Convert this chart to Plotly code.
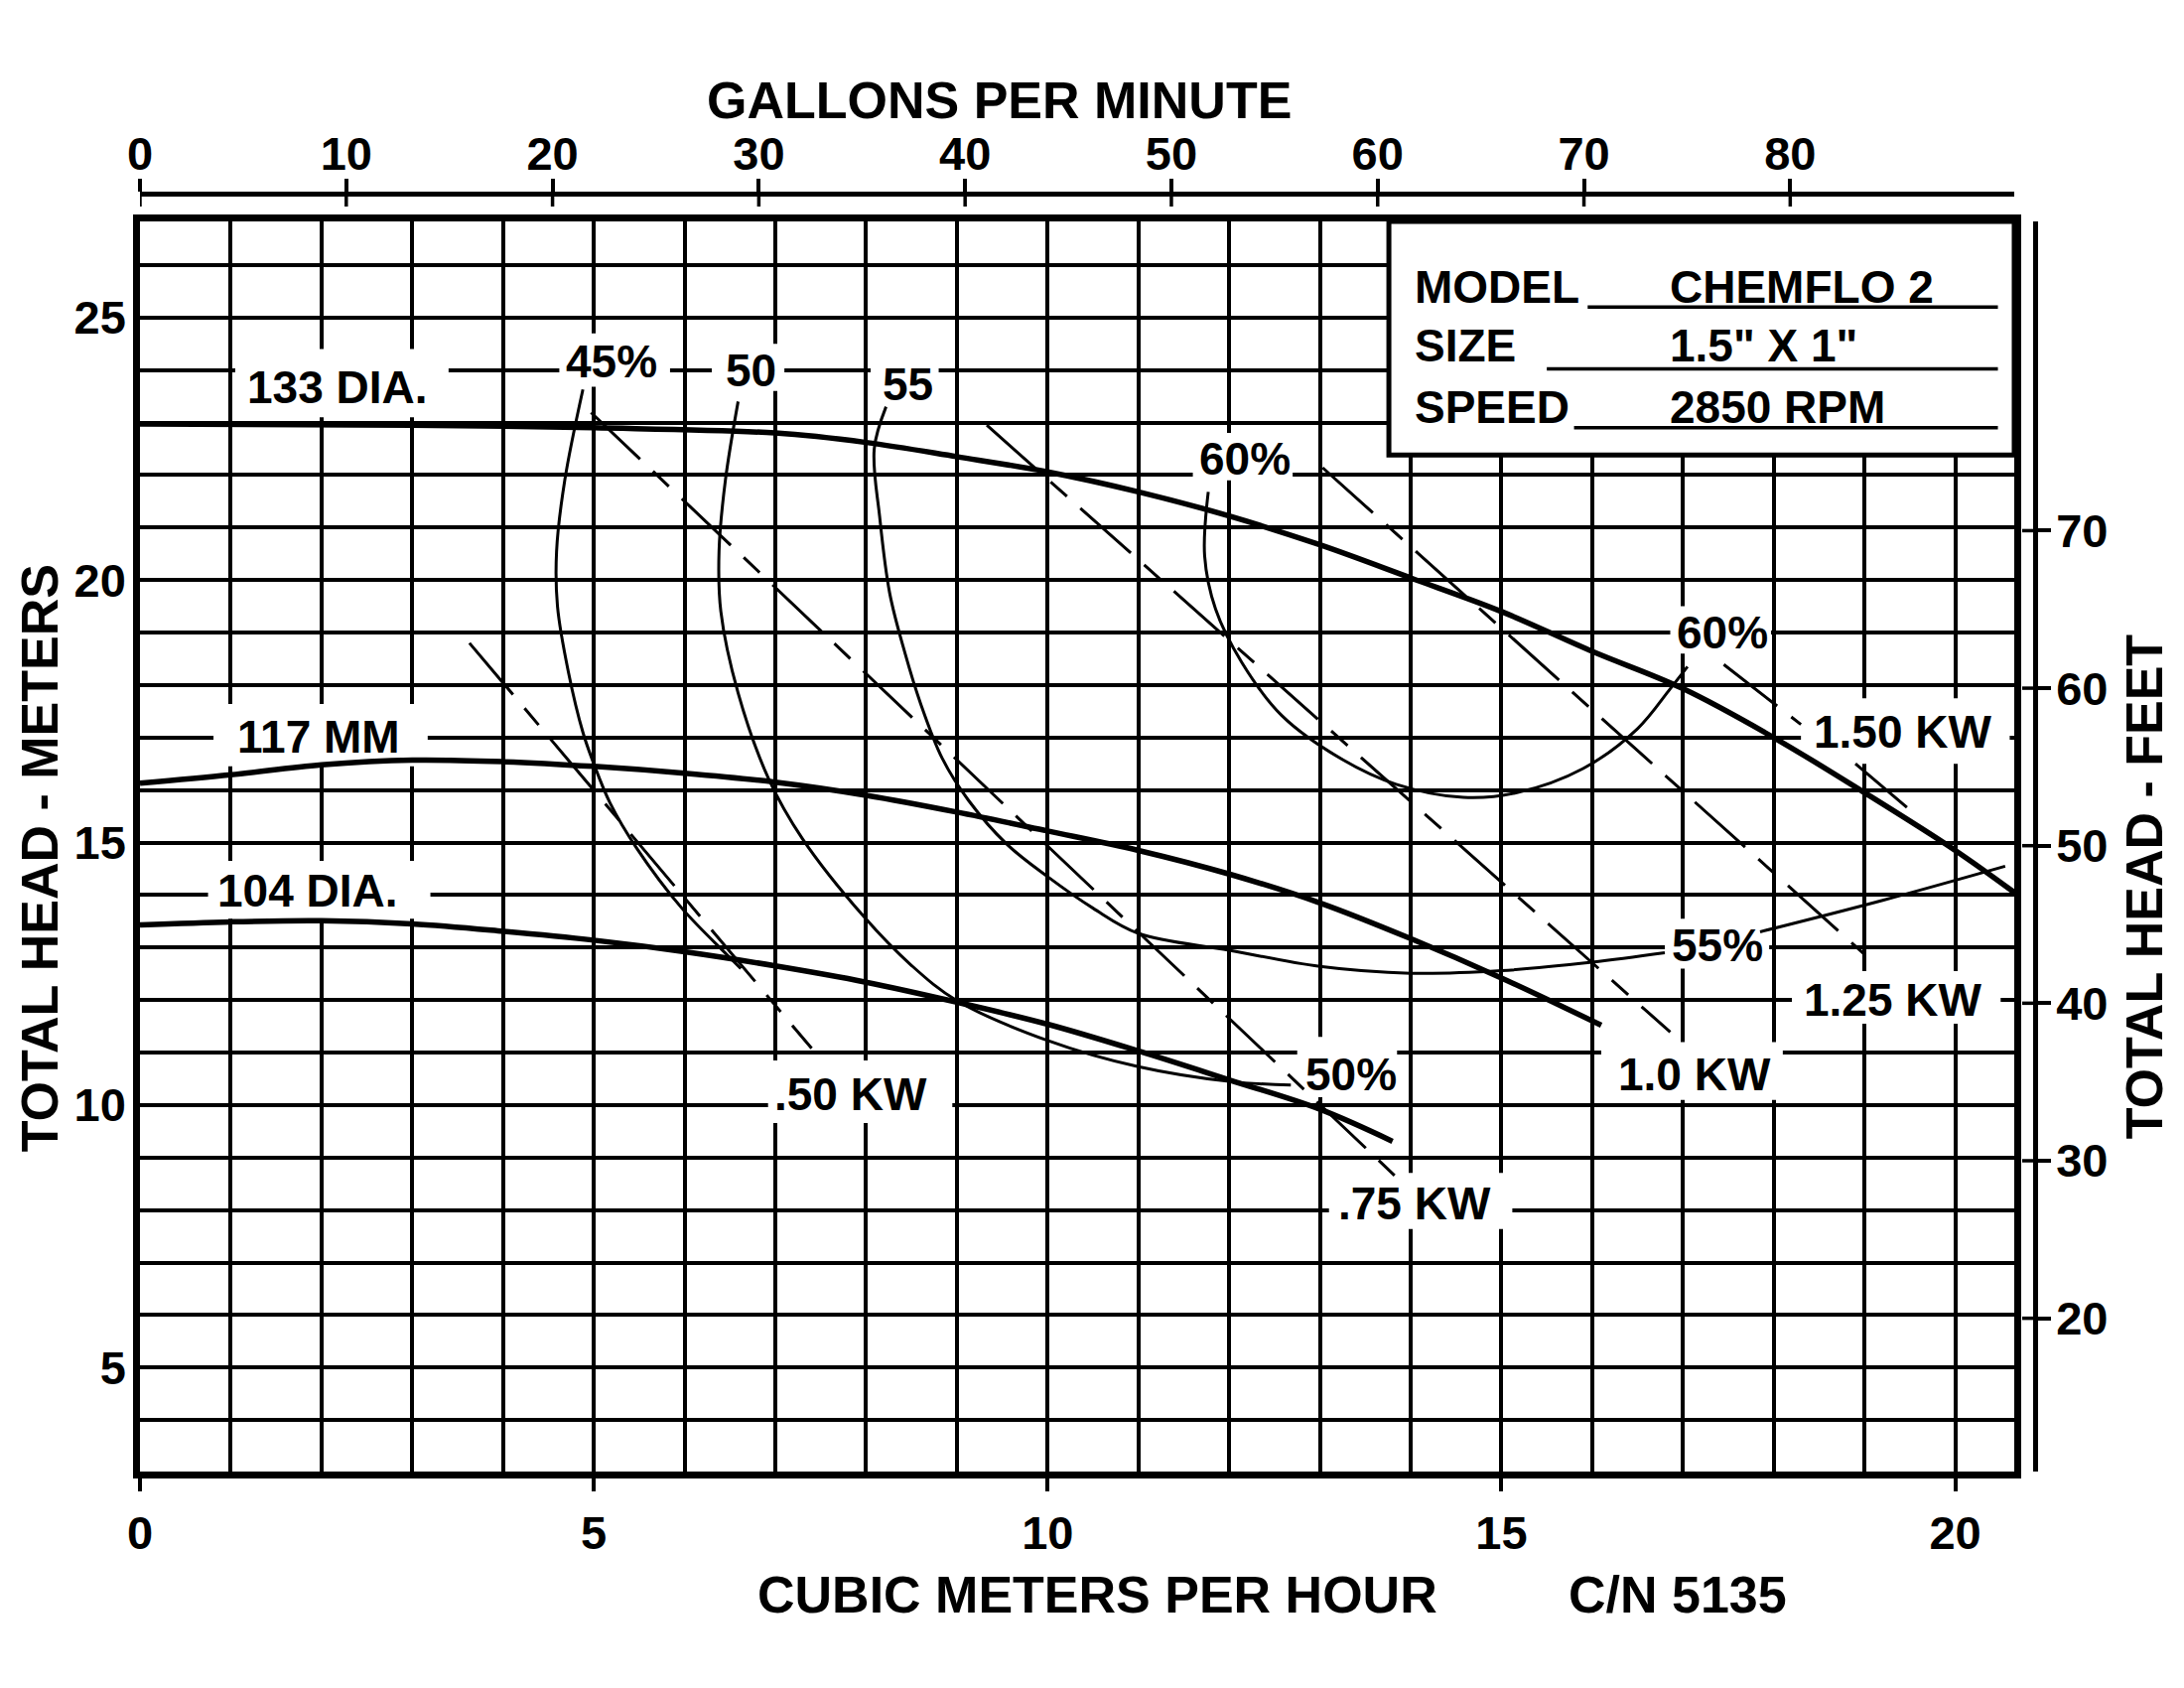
import plotly.graph_objects as go

# ---- values: flow in m3/h, head in m ----
# impeller head curves
q_133 = [0, 3, 5, 7, 8, 9, 10, 11, 12, 13, 14, 15, 16, 17, 18, 19, 20, 20.65]
h_133 = [22.97, 22.95, 22.9, 22.8, 22.62, 22.35, 22.06, 21.68, 21.22, 20.67, 20.04, 19.4, 18.64, 17.93, 17.0, 15.95, 14.85, 14.05]

q_117 = [0, 1, 2, 3, 4, 5, 6, 7, 8, 9, 10, 11, 12, 13, 14, 15, 16.1]
h_117 = [16.13, 16.29, 16.48, 16.57, 16.54, 16.45, 16.32, 16.15, 15.9, 15.58, 15.22, 14.85, 14.4, 13.85, 13.17, 12.42, 11.52]

q_104 = [0, 1, 2, 3, 4, 5, 6, 7, 8, 9, 10, 11, 12, 13, 13.8]
h_104 = [13.43, 13.49, 13.51, 13.45, 13.31, 13.14, 12.92, 12.65, 12.34, 11.96, 11.54, 11.03, 10.48, 9.92, 9.31]

# efficiency contours
q_e45 = [4.88, 4.68, 4.59, 4.6, 4.72, 4.88, 5.0, 5.18, 5.47, 5.97, 6.47, 6.62]
h_e45 = [23.63, 21.9, 20.55, 19.5, 18.25, 17.1, 16.5, 15.75, 14.9, 13.75, 12.86, 12.6]

q_e50 = [6.59, 6.45, 6.38, 6.4, 6.59, 6.93, 7.3, 7.97, 8.5, 9.0, 10.0, 11.0, 12.0, 12.68]
h_e50 = [23.4, 21.9, 20.55, 19.4, 17.85, 16.2, 15.07, 13.6, 12.66, 11.99, 11.23, 10.73, 10.45, 10.38]

q_e55 = [8.22, 8.09, 8.15, 8.26, 8.43, 8.6, 8.84, 9.13, 9.55, 10.0, 10.5, 11.0, 12.0, 13.0, 14.0, 15.0, 16.0, 16.8, None, 17.85, 19.2, 20.55]
h_e55 = [23.3, 22.5, 21.2, 19.75, 18.6, 17.65, 16.6, 15.8, 14.97, 14.35, 13.75, 13.27, 12.95, 12.64, 12.51, 12.56, 12.72, 12.9, None, 13.3, 13.9, 14.55]

q_e60 = [11.77, 11.73, 11.85, 12.14, 12.58, 13.25, 13.84, 14.58, 15.17, 15.9, 16.5, 16.86, 17.05]
h_e60 = [21.68, 20.46, 19.45, 18.43, 17.42, 16.58, 16.11, 15.86, 15.95, 16.41, 17.17, 17.93, 18.35]

# power lines
q_kw050 = [3.63, 7.4]
h_kw050 = [18.8, 11.08]
q_kw075 = [4.97, 13.95]
h_kw075 = [23.19, 8.45]
q_kw100 = [9.33, 16.86]
h_kw100 = [22.95, 11.39]
q_kw125 = [13.03, 19.0]
h_kw125 = [22.14, 12.87]
q_kw150 = [17.45, 18.3, None, 18.9, 19.48]
h_kw150 = [18.39, 17.25, None, 16.5, 15.65]

# curve labels
label_text = ["133 DIA.", "117 MM", "104 DIA.", "45%", "50", "55", "60%", "60%",
              "55%", "50%", ".50 KW", ".75 KW", "1.0 KW", "1.25 KW", "1.50 KW"]

# axis ticks
q_ticks = [0, 5, 10, 15, 20]
h_ticks = [5, 10, 15, 20, 25]
gpm_ticks = [0, 10, 20, 30, 40, 50, 60, 70, 80]
ft_ticks = [20, 30, 40, 50, 60, 70]

# nameplate
plate_keys = ["MODEL", "SIZE", "SPEED"]
plate_vals = ["CHEMFLO 2", '1.5" X 1"', "2850 RPM"]

# ---- layout constants ----
FONT = "Liberation Sans, Arial, sans-serif"
Q_RANGE = [0, 20.65]
H_RANGE = [3.02, 26.83]
GPM_PER_M3H = 4.40           # scale of the printed gallon axis
FT_RANGE = [10.27, 89.63]    # printed feet axis (as drawn on the sheet)

# label centres and white knock-out boxes (x0, x1, y0, y1) in data units
label_pos = [(2.18, 23.71), (1.97, 17.05), (1.85, 14.12), (5.19, 24.2), (6.73, 24.03),
             (8.46, 23.77), (12.17, 22.35), (17.43, 19.03), (17.38, 13.08), (13.34, 10.62),
             (7.83, 10.25), (14.04, 8.16), (17.13, 10.62), (19.32, 12.05), (19.43, 17.15)]
label_box = [(1.05, 3.4, 23.1, 24.4), (0.81, 3.17, 16.45, 17.64), (0.75, 3.2, 13.55, 14.65),
             (4.62, 5.84, 23.68, 24.7), (6.3, 7.1, 23.6, 24.5), (8.05, 8.8, 23.35, 24.4),
             (11.6, 12.7, 21.9, 22.8), (16.86, 17.97, 18.6, 19.5), (16.8, 17.95, 12.6, 13.55),
             (12.75, 13.85, 10.15, 11.3), (6.92, 8.95, 9.66, 10.85), (13.1, 15.12, 7.64, 8.71),
             (16.1, 18.1, 10.1, 11.2), (18.2, 20.5, 11.55, 12.55), (18.3, 20.6, 16.5, 17.75)]

PW_DASH = "68px,18px,22px,18px"
GRID_W = 4

fig = go.Figure()


def add_curve(q, h, width, dash="solid"):
    fig.add_trace(go.Scatter(x=q, y=h, mode="lines", line_shape="spline",
                             line=dict(color="black", width=width, dash=dash),
                             connectgaps=False, hoverinfo="skip", showlegend=False))


# head curves (heavy)
for q, h in [(q_133, h_133), (q_117, h_117), (q_104, h_104)]:
    add_curve(q, h, 5.5)

# efficiency contours (light)
for q, h in [(q_e45, h_e45), (q_e50, h_e50), (q_e55, h_e55), (q_e60, h_e60)]:
    add_curve(q, h, 3)

# power lines (dashed)
for q, h in [(q_kw050, h_kw050), (q_kw075, h_kw075), (q_kw100, h_kw100),
             (q_kw125, h_kw125), (q_kw150, h_kw150)]:
    add_curve(q, h, 3, PW_DASH)

shapes = []
annotations = []

# white knock-outs behind the curve labels (hide grid, keep curves)
for x0, x1, y0, y1 in label_box:
    shapes.append(dict(type="rect", xref="x", yref="y", x0=x0, x1=x1, y0=y0, y1=y1,
                       fillcolor="white", line=dict(width=0), layer="between"))

label_font = dict(family=FONT, size=46, color="black", weight="bold")
for txt, (x, y) in zip(label_text, label_pos):
    annotations.append(dict(x=x, y=y, xref="x", yref="y", text=txt, showarrow=False,
                            xanchor="center", yanchor="middle", yshift=-2, font=label_font))

# nameplate box
shapes.append(dict(type="rect", xref="x", yref="y", x0=13.76, x1=Q_RANGE[1], y0=22.38, y1=H_RANGE[1],
                   fillcolor="white", line=dict(color="black", width=5), layer="above"))
plate_y = [25.59, 24.46, 23.3]
plate_line_x0 = [15.95, 15.5, 15.8]
plate_line_y = [25.2, 24.02, 22.9]
for key, val, y, lx, ly in zip(plate_keys, plate_vals, plate_y, plate_line_x0, plate_line_y):
    annotations.append(dict(x=14.02, y=y, xref="x", yref="y", text=key, showarrow=False,
                            xanchor="left", yanchor="middle", font=label_font))
    annotations.append(dict(x=16.83, y=y, xref="x", yref="y", text=val, showarrow=False,
                            xanchor="left", yanchor="middle", font=label_font))
    shapes.append(dict(type="line", xref="x", yref="y", x0=lx, x1=20.47, y0=ly, y1=ly,
                       line=dict(color="black", width=3.5), layer="above"))

# tick marks crossing the secondary axis lines (inner half)
for g in gpm_ticks:
    shapes.append(dict(type="line", xref="x2", yref="paper", ysizemode="pixel", yanchor=1,
                       x0=g, x1=g, y0=0, y1=-13, line=dict(color="black", width=3.5)))
for f in ft_ticks:
    shapes.append(dict(type="line", xref="paper", yref="y2", xsizemode="pixel", xanchor=1,
                       y0=f, y1=f, x0=0, x1=-13, line=dict(color="black", width=3.5)))

# axis titles
title_font = dict(family=FONT, size=52, color="black", weight="bold")
for txt, x, y, ang in [("GALLONS PER MINUTE", 0.4536, 1.0729, 0),
                       ("CUBIC METERS PER HOUR", 0.5052, -0.0961, 0),
                       ("C/N 5135", 0.8116, -0.0961, 0),
                       ("TOTAL HEAD - METERS", -0.0525, 0.4798, -90),
                       ("TOTAL HEAD - FEET", 1.0575, 0.458, -90)]:
    annotations.append(dict(x=x, y=y, xref="paper", yref="paper", text=txt, showarrow=False,
                            xanchor="center", yanchor="middle", textangle=ang, font=title_font))

tick_font = dict(family=FONT, size=47, color="black", weight="bold")
x_dom = [0, 0.98900]
y_dom = [0, 0.97824]

fig.update_layout(
    width=2200, height=1700,
    # the page body adds an 8px offset, margins are trimmed for it
    margin=dict(l=133, r=158, t=187, b=226),
    paper_bgcolor="white", plot_bgcolor="white",
    showlegend=False,
    xaxis=dict(domain=x_dom, range=Q_RANGE, tickvals=q_ticks, ticks="outside", ticklen=13,
               tickwidth=3.5, tickcolor="black", ticklabelstandoff=2, tickfont=tick_font,
               showline=True, linewidth=6.5, linecolor="black", mirror=True,
               showgrid=True, gridcolor="black", gridwidth=GRID_W, zeroline=False,
               minor=dict(dtick=1, tick0=0, showgrid=True, gridcolor="black", gridwidth=GRID_W)),
    yaxis=dict(domain=y_dom, range=H_RANGE, tickvals=h_ticks, ticks="", ticklabelstandoff=-2,
               tickfont=tick_font, showline=True, linewidth=6.5, linecolor="black", mirror=True,
               showgrid=True, gridcolor="black", gridwidth=GRID_W, zeroline=False,
               minor=dict(dtick=1, tick0=0, showgrid=True, gridcolor="black", gridwidth=GRID_W)),
    xaxis2=dict(overlaying="x", side="top", anchor="free", position=1, domain=x_dom,
                range=[Q_RANGE[0] * GPM_PER_M3H, Q_RANGE[1] * GPM_PER_M3H], tickvals=gpm_ticks,
                ticks="outside", ticklen=13, tickwidth=3.5, tickcolor="black", tickfont=tick_font,
                ticklabelstandoff=-10,
                showline=True, linewidth=4.5, linecolor="black", showgrid=False, zeroline=False),
    yaxis2=dict(overlaying="y", side="right", anchor="free", position=1, domain=y_dom,
                range=FT_RANGE, tickvals=ft_ticks, ticks="outside", ticklen=13, tickwidth=3.5,
                tickcolor="black", ticklabelstandoff=-4, tickfont=tick_font,
                showline=True, linewidth=4.5, linecolor="black", showgrid=False, zeroline=False),
    shapes=shapes,
    annotations=annotations,
)

fig.write_html("out.html")
